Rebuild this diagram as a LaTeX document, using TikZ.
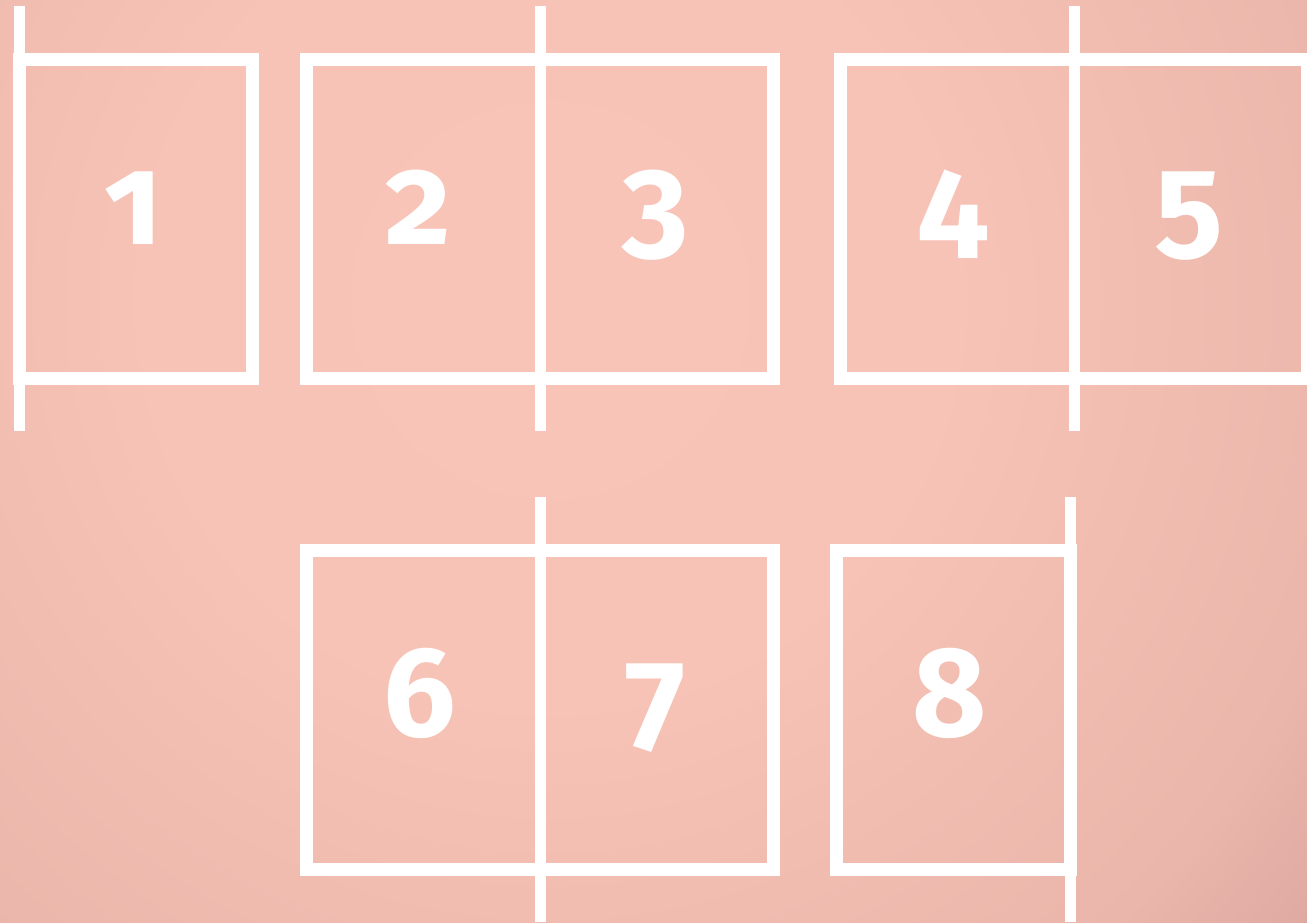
\documentclass[tikz,border=0pt]{standalone}
\usepackage{fontspec}
\setmainfont{Fira Sans}[Numbers=OldStyle]
\definecolor{bgA}{HTML}{F8C4B7}
\definecolor{bgB}{HTML}{F7C3B6}
\definecolor{bgC}{HTML}{EAB6AB}
\definecolor{bgD}{HTML}{DCA8A0}
\pgfdeclareradialshading{bgshade}{\pgfpoint{0bp}{0bp}}{color(0bp)=(bgA); color(10bp)=(bgB); color(21bp)=(bgC); color(25bp)=(bgD); color(50bp)=(bgD)}
\begin{document}
\begin{tikzpicture}[x=1pt,y=-1pt,
  frame/.style={draw=white,line width=13pt,line join=miter},
  guide/.style={draw=white,line width=11pt,line cap=butt},
  num/.style={text=white,font=\fontsize{128}{128}\selectfont\bfseries,inner sep=0pt,anchor=base}]
\useasboundingbox (0,0) rectangle (1307,922);
\begin{scope}
\clip (0,0) rectangle (1307,922);
\shade[shading=bgshade] (550,300) circle (1000);
% top row frames
\draw[frame] (19.5,59.5) rectangle (252.5,378.5);
\draw[frame] (306.5,59.5) rectangle (773.5,378.5);
\draw[frame] (840.5,59.5) rectangle (1307.5,378.5);
% bottom row frames
\draw[frame] (306.5,550) rectangle (773.5,869.5);
\draw[frame] (836.5,550) rectangle (1070.5,869.5);
% guides
\coordinate (g1t) at (19.5,6);   \coordinate (g1b) at (19.5,431);
\coordinate (g2t) at (540,6);    \coordinate (g2b) at (540,431);
\coordinate (g3t) at (1074.5,6); \coordinate (g3b) at (1074.5,431);
\coordinate (g4t) at (540,497);  \coordinate (g4b) at (540,922);
\coordinate (g5t) at (1070.3,497); \coordinate (g5b) at (1070.3,922);
\draw[guide] (g1t) -- (g1b);
\draw[guide] (g2t) -- (g2b);
\draw[guide] (g3t) -- (g3b);
\draw[guide] (g4t) -- (g4b);
\draw[guide] (g5t) -- (g5b);
\end{scope}
% numbers
\node[num] (n1) at (133,244.5) {1};
\node[num] (n2) at (419,244.5) {2};
\node[num] (n3) at (655,244.5) {3};
\node[num] (n4) at (953,244.5) {4};
\node[num] (n5) at (1189,244.5) {5};
\node[num] (n6) at (420,736) {6};
\node[num] (n7) at (656,736) {7};
\node[num] (n8) at (950,736) {8};
\end{tikzpicture}
\end{document}
